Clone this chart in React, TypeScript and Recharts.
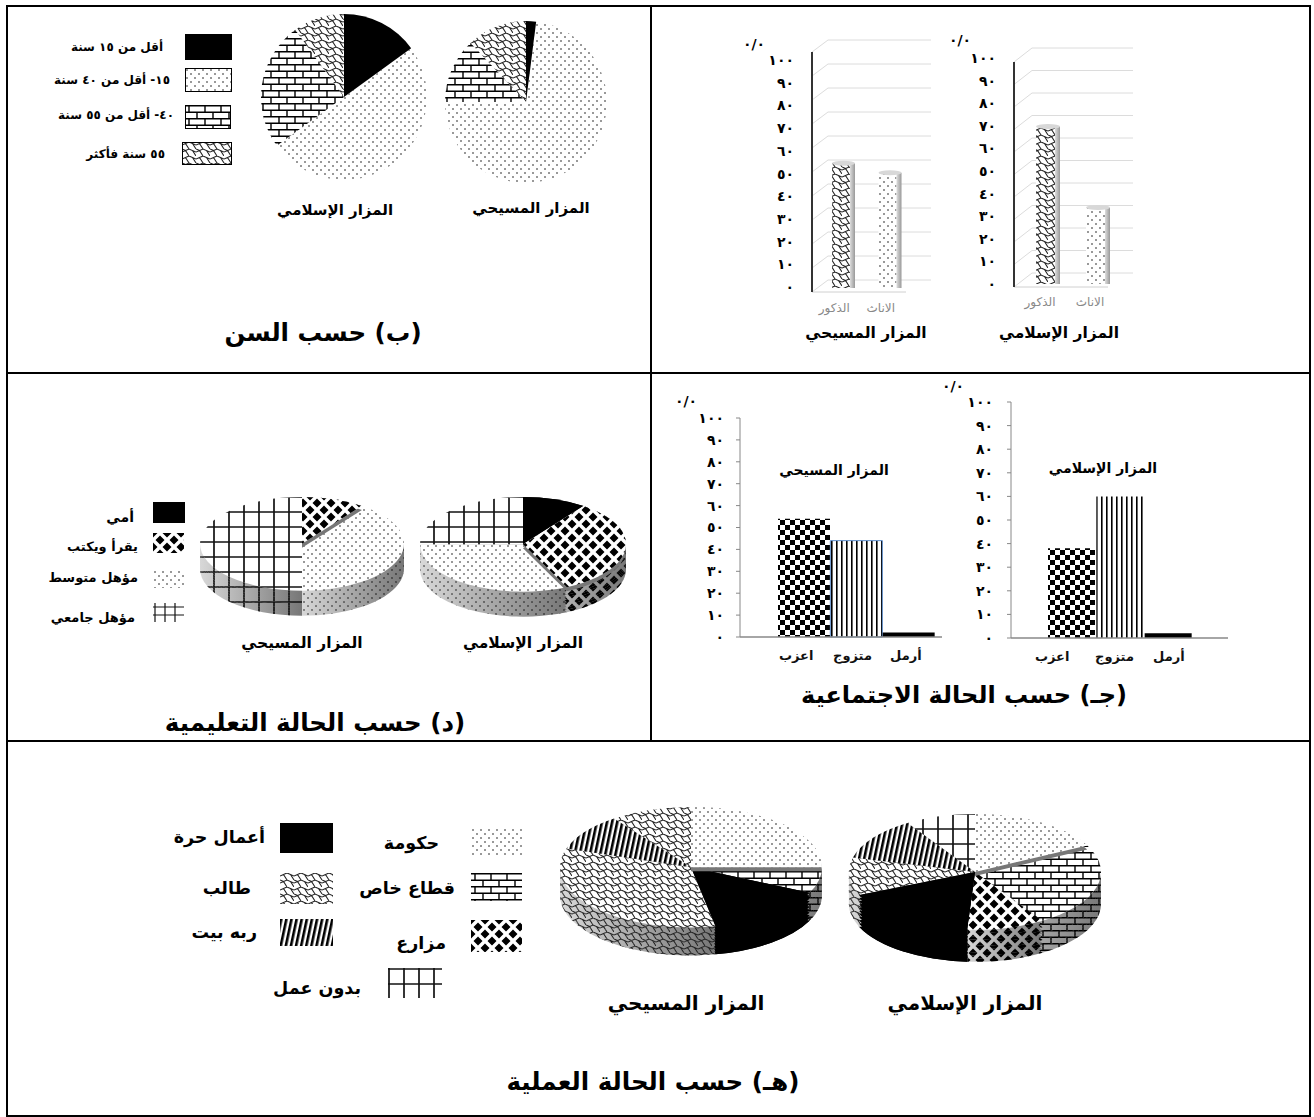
import { Bar, BarChart, CartesianGrid, Cell, Pie, PieChart, XAxis, YAxis } from 'recharts'

const FONT = '"DejaVu Sans", sans-serif'

const islamicName = 'المزار الإسلامي'
const christianName = 'المزار المسيحي'

const yTicks = [0, 10, 20, 30, 40, 50, 60, 70, 80, 90, 100]
const yTickLabels = ['٠', '١٠', '٢٠', '٣٠', '٤٠', '٥٠', '٦٠', '٧٠', '٨٠', '٩٠', '١٠٠']
const percentMark = '٠/٠'

const genderLabels = ['الذكور', 'الاناث']
const genderIslamic = [70, 34]
const genderChristian = [52, 48]
const genderFills = ['zigzag', 'dots']

const ageLabels = ['أقل من ١٥ سنة', '١٥- أقل من ٤٠ سنة', '٤٠- أقل من ٥٥ سنة', '٥٥ سنة فأكثر']
const ageIslamic = [15, 50, 25, 10]
const ageChristian = [2, 73, 13, 12]
const ageFills = ['black', 'dots', 'brick', 'zigzag']

const maritalLabels = ['اعزب', 'متزوج', 'أرمل']
const maritalIslamic = [38, 60, 2]
const maritalChristian = [54, 44, 2]
const maritalFills = ['checker', 'vstripes', 'black']

const eduLabels = ['أمي', 'يقرأ ويكتب', 'مؤهل متوسط', 'مؤهل جامعي']
const eduIslamic = [10, 33, 32, 25]
const eduChristian = [0, 10, 40, 50]
const eduFills = ['black', 'diamonds', 'dots', 'grid']

const workLabels = ['حكومة', 'قطاع خاص', 'مزارع', 'أعمال حرة', 'طالب', 'ربه بيت', 'بدون عمل']
const workIslamic = [17.5, 23.5, 10, 17.5, 10.5, 12, 9]
const workChristian = [25, 7, 0, 15, 33, 10, 10]
const workFills = ['dots', 'brick', 'diamonds', 'black', 'zigzag', 'dstripes', 'grid']
const workFillsChristian = ['dots', 'brick', 'diamonds', 'black', 'zigzag', 'dstripes', 'zigzag']

const TILT = 0.46
const sideLayers = [1, 0.9, 0.8, 0.7, 0.6, 0.5, 0.4, 0.3, 0.2, 0.1]

function toRows(labels: string[], values: number[]) {
  return labels.map((name, i) => ({ name, value: values[i] }))
}

function fillUrl(kind: string, suffix = '') {
  return kind === 'black' ? '#000' : `url(#${kind}${suffix})`
}

function PatternSet({ suffix, sy }: { suffix: string; sy: number }) {
  const t = `scale(1,${sy})`
  const common = { patternUnits: 'userSpaceOnUse' as const, patternTransform: t }
  return (
    <>
      <pattern id={`dots${suffix}`} width="8" height="8" {...common}>
        <circle cx="2" cy="2" r="0.75" fill="#000" />
        <circle cx="6" cy="6" r="0.75" fill="#000" />
      </pattern>
      <pattern id={`brick${suffix}`} width="16" height="13" {...common}>
        <path d="M0 0.7H16M0 7.2H16M4 0V7M12 7V13" stroke="#000" strokeWidth="1.4" fill="none" />
      </pattern>
      <pattern id={`zigzag${suffix}`} width="14" height="14" {...common}>
        <path d="M0 3L7 0L14 3M0 10L7 7L14 10M3.5 1.5L7 7M10.5 1.5L14 7M0 7L3.5 8.5L7 14M10.5 8.5L14 14" stroke="#222" strokeWidth="1.1" fill="none" />
      </pattern>
      <pattern id={`diamonds${suffix}`} width="14" height="14" {...common}>
        <path d="M7 2.5L11.5 7L7 11.5L2.5 7ZM0 -4.5L4.5 0L0 4.5L-4.5 0ZM14 -4.5L18.5 0L14 4.5L9.5 0ZM0 9.5L4.5 14L0 18.5L-4.5 14ZM14 9.5L18.5 14L14 18.5L9.5 14Z" fill="#000" />
      </pattern>
      <pattern id={`grid${suffix}`} width="15" height="15" {...common}>
        <path d="M1 0V15M0 1H15" stroke="#111" strokeWidth="1.7" fill="none" />
      </pattern>
      <pattern id={`gridsm${suffix}`} width="10" height="8" {...common}>
        <path d="M2 0V8M0 4H10" stroke="#111" strokeWidth="1.2" fill="none" />
      </pattern>
      <pattern id={`vstripes${suffix}`} width="5" height="5" {...common}>
        <rect x="1" width="1.6" height="5" fill="#000" />
      </pattern>
      <pattern id={`dstripes${suffix}`} width="5" height="20" patternUnits="userSpaceOnUse" patternTransform={`${t} rotate(12)`}>
        <rect width="2.6" height="20" fill="#000" />
      </pattern>
      <pattern id={`checker${suffix}`} width="10" height="10" {...common}>
        <path d="M0 0H5V5H0ZM5 5H10V10H5Z" fill="#000" />
      </pattern>
    </>
  )
}

function SharedDefs() {
  return (
    <svg style={{ position: 'absolute', width: 0, height: 0 }}>
      <defs>
        <PatternSet suffix="" sy={1} />
        <PatternSet suffix="3d" sy={1 / TILT} />
        <linearGradient id="sideShade" x1="0" y1="0" x2="1" y2="0">
          <stop offset="0%" stopColor="#d8d8d8" />
          <stop offset="100%" stopColor="#777" />
        </linearGradient>
        <linearGradient id="barSide" x1="0" y1="0" x2="1" y2="0">
          <stop offset="0%" stopColor="#ddd" />
          <stop offset="100%" stopColor="#999" />
        </linearGradient>
      </defs>
    </svg>
  )
}

function Txt({
  x,
  y,
  size,
  children,
  anchor = 'center',
  color = '#000',
  weight = 'bold',
}: {
  x: number
  y: number
  size: number
  children: React.ReactNode
  anchor?: 'center' | 'right'
  color?: string
  weight?: string
}) {
  return (
    <div
      dir="rtl"
      style={{
        position: 'absolute',
        left: x,
        top: y,
        transform: `translate(${anchor === 'center' ? '-50%' : '-100%'},-50%)`,
        whiteSpace: 'nowrap',
        fontSize: size,
        fontWeight: weight,
        color,
        fontFamily: FONT,
        lineHeight: 1.2,
      }}
    >
      {children}
    </div>
  )
}

function Line2({ x, y, w, h }: { x: number; y: number; w: number; h: number }) {
  return <div style={{ position: 'absolute', left: x, top: y, width: w, height: h, background: '#000' }} />
}

function Swatch({ box, kind, border }: { box: number[]; kind: string; border?: boolean }) {
  const [x1, y1, x2, y2] = box
  return (
    <svg style={{ position: 'absolute', left: x1, top: y1 }} width={x2 - x1} height={y2 - y1}>
      <rect width={x2 - x1} height={y2 - y1} fill={fillUrl(kind)} />
      {border && <rect x="0.5" y="0.5" width={x2 - x1 - 1} height={y2 - y1 - 1} fill="none" stroke="#000" />}
    </svg>
  )
}

function FlatPie({ cx, cy, r, values, labels }: { cx: number; cy: number; r: number; values: number[]; labels: string[] }) {
  return (
    <div style={{ position: 'absolute', left: cx - r - 2, top: cy - r - 2 }}>
      <PieChart width={2 * r + 4} height={2 * r + 4} margin={{ top: 0, right: 0, bottom: 0, left: 0 }}>
        <Pie
          data={toRows(labels, values)}
          dataKey="value"
          cx={r + 2}
          cy={r + 2}
          outerRadius={r}
          startAngle={90}
          endAngle={-270}
          stroke="none"
          isAnimationActive={false}
        >
          {labels.map((l, i) => (
            <Cell key={l} fill={fillUrl(ageFills[i])} />
          ))}
        </Pie>
      </PieChart>
    </div>
  )
}

function TiltedPie({
  cx,
  cy,
  rx,
  depth,
  values,
  labels,
  fills,
  lifted,
}: {
  cx: number
  cy: number
  rx: number
  depth: number
  values: number[]
  labels: string[]
  fills: string[]
  lifted: number
}) {
  const ry = rx * TILT
  const rows = toRows(labels, values)
  const height = (2 * ry + depth + 6) / TILT
  const topCy = rx + 2
  const shared = {
    data: rows,
    dataKey: 'value',
    cx: rx + 2,
    outerRadius: rx,
    startAngle: 90,
    endAngle: -270,
    stroke: 'none',
    isAnimationActive: false,
  }
  return (
    <div
      style={{
        position: 'absolute',
        left: cx - rx - 2,
        top: cy - ry - 2,
        transform: `scaleY(${TILT})`,
        transformOrigin: 'top left',
      }}
    >
      <PieChart width={2 * rx + 4} height={height} margin={{ top: 0, right: 0, bottom: 0, left: 0 }}>
        {sideLayers.flatMap((f) => {
          const layerCy = topCy + (depth * f) / TILT
          return [
            <Pie key={`s${f}`} {...shared} cy={layerCy}>
              {labels.map((l, i) => (
                <Cell key={l} fill={fills[i] === 'black' ? '#000' : 'url(#sideShade)'} />
              ))}
            </Pie>,
            <Pie key={`p${f}`} {...shared} cy={layerCy}>
              {labels.map((l, i) => (
                <Cell key={l} fill={fillUrl(fills[i], '3d')} />
              ))}
            </Pie>,
          ]
        })}
        <Pie {...shared} cy={topCy}>
          {labels.map((l, i) => (
            <Cell key={l} fill={fills[i] === 'black' ? '#000' : '#fff'} />
          ))}
        </Pie>
        <Pie {...shared} cy={topCy}>
          {labels.map((l, i) => (
            <Cell key={l} fill={fillUrl(fills[i], '3d')} />
          ))}
        </Pie>
        {/* the pulled-out slice: grey wall under its lower edge, then the slice again */}
        <Pie {...shared} cy={topCy + 4 / TILT}>
          {labels.map((l, i) => (
            <Cell key={l} fill={i === lifted ? '#777' : 'none'} />
          ))}
        </Pie>
        <Pie {...shared} cy={topCy}>
          {labels.map((l, i) => (
            <Cell key={l} fill={i === lifted ? '#fff' : 'none'} />
          ))}
        </Pie>
        <Pie {...shared} cy={topCy}>
          {labels.map((l, i) => (
            <Cell key={l} fill={i === lifted ? fillUrl(fills[i], '3d') : 'none'} />
          ))}
        </Pie>
      </PieChart>
    </div>
  )
}

function CylinderBar(props: any) {
  const { x, y, width, height, index, dx, dy, fills } = props
  const left = x + dx
  const top = y + dy
  const side = 5
  return (
    <g>
      <rect x={left} y={top} width={width} height={height} fill="#fff" />
      <rect x={left} y={top} width={width} height={height} fill={fillUrl(fills[index])} />
      <rect x={left + width} y={top} width={side} height={height} fill="url(#barSide)" />
      <ellipse cx={left + (width + side) / 2} cy={top} rx={(width + side) / 2} ry={2.5} fill="#d8d8d8" />
    </g>
  )
}

function Perspective3DBars({
  left,
  top,
  width,
  height,
  plotLeft,
  plotRight,
  plotTop,
  plotBottom,
  labelTop,
  labelBottom,
  backDx,
  backDy,
  barWidth,
  barDx,
  barDy,
  tickLabelY,
  padRight,
  values,
}: {
  left: number
  top: number
  width: number
  height: number
  plotLeft: number
  plotRight: number
  plotTop: number
  plotBottom: number
  labelTop: number
  labelBottom: number
  backDx: number
  backDy: number
  barWidth: number
  barDx: number
  barDy: number
  tickLabelY: number
  padRight: number
  values: number[]
}) {
  const rows = toRows(genderLabels, values)
  const gridLine = (p: any) => {
    const isFloor = Math.abs(p.y1 - (plotBottom - top)) < 1
    return (
      <g key={p.key}>
        <line x1={p.x1} y1={p.y1} x2={p.x2} y2={p.y2} stroke="#dcdcdc" />
        <line x1={p.x1} y1={p.y1} x2={p.x1 - backDx} y2={p.y1 + backDy} stroke="#dcdcdc" />
        {isFloor && <line x1={p.x1 - backDx} y1={p.y1 + backDy} x2={p.x2 - 25} y2={p.y1 + backDy} stroke="#d0d0d0" />}
      </g>
    )
  }
  const yTick = (p: any) => {
    const share = (p.y - (plotTop - top)) / (plotBottom - plotTop)
    const ly = labelTop - top + share * (labelBottom - labelTop)
    return (
      <text x={plotLeft - left - backDx - 18} y={ly} dy={5} textAnchor="end" fontFamily={FONT} fontSize={14} fontWeight="bold" letterSpacing={2}>
        {yTickLabels[p.payload.value / 10]}
      </text>
    )
  }
  const xTick = (p: any) => (
    <text x={p.x - 17} y={tickLabelY - top} dy={4} textAnchor="middle" fontFamily={FONT} fontSize={12} fill="#888">
      {p.payload.value}
    </text>
  )
  return (
    <div style={{ position: 'absolute', left, top }}>
      <BarChart
        width={width}
        height={height}
        data={rows}
        margin={{ top: plotTop - top, right: left + width - plotRight, bottom: 0, left: 0 }}
      >
        <CartesianGrid vertical={false} horizontal={gridLine} />
        <XAxis dataKey="name" axisLine={false} tickLine={false} tick={xTick} height={top + height - plotBottom} padding={{ left: 0, right: padRight }} interval={0} />
        <YAxis
          domain={[0, 100]}
          ticks={yTicks}
          interval={0}
          width={plotLeft - left}
          tick={yTick}
          tickLine={false}
          axisLine={{ stroke: '#333', strokeWidth: 2, transform: `translate(${-backDx},${backDy})` }}
        />
        <Bar
          dataKey="value"
          barSize={barWidth}
          isAnimationActive={false}
          shape={(p: any) => <CylinderBar {...p} dx={barDx} dy={barDy} fills={genderFills} />}
        />
      </BarChart>
    </div>
  )
}

function MaritalBars({
  left,
  top,
  width,
  height,
  axisX,
  axisEnd,
  plotTop,
  plotBottom,
  padLeft,
  padRight,
  barWidth,
  tickGap,
  xShift,
  values,
  outline,
}: {
  left: number
  top: number
  width: number
  height: number
  axisX: number
  axisEnd: number
  plotTop: number
  plotBottom: number
  padLeft: number
  padRight: number
  barWidth: number
  tickGap: number
  xShift: number[]
  values: number[]
  outline?: string
}) {
  const rows = toRows(maritalLabels, values)
  const xTick = (p: any) => (
    <text x={p.x + xShift[p.index]} y={p.y + 15} textAnchor="middle" fontFamily={FONT} fontSize={13} fontWeight="bold" fill="#111">
      {p.payload.value}
    </text>
  )
  return (
    <div style={{ position: 'absolute', left, top }}>
      <BarChart
        width={width}
        height={height}
        data={rows}
        barCategoryGap={0}
        margin={{ top: plotTop - top, right: left + width - axisEnd, bottom: 0, left: 0 }}
      >
        <XAxis
          dataKey="name"
          axisLine={{ stroke: '#888', strokeWidth: 1.5 }}
          tickLine={false}
          tick={xTick}
          height={top + height - plotBottom}
          padding={{ left: padLeft, right: padRight }}
          interval={0}
        />
        <YAxis
          domain={[0, 100]}
          ticks={yTicks}
          interval={0}
          width={axisX - left}
          tickSize={4}
          tickMargin={tickGap}
          tickFormatter={(v: number) => yTickLabels[v / 10]}
          tick={{ fontFamily: FONT, fontSize: 14, fontWeight: 'bold', fill: '#000', letterSpacing: 2 }}
          axisLine={{ stroke: '#888' }}
          tickLine={{ stroke: '#888' }}
        />
        <Bar dataKey="value" barSize={barWidth} isAnimationActive={false}>
          {maritalFills.map((f, i) => (
            <Cell key={f} fill={fillUrl(f)} stroke={f === 'vstripes' && outline ? outline : 'none'} />
          ))}
        </Bar>
      </BarChart>
    </div>
  )
}

export default function App() {
  return (
    <div style={{ position: 'absolute', left: 0, top: 0, width: 1314, height: 1117, background: '#fff', overflow: 'hidden' }}>
      <SharedDefs />

      <Line2 x={6} y={5} w={1305} h={2} />
      <Line2 x={6} y={5} w={2} h={1112} />
      <Line2 x={1309} y={5} w={2} h={1112} />
      <Line2 x={650} y={5} w={2} h={736} />
      <Line2 x={6} y={372} w={1305} h={2} />
      <Line2 x={6} y={740} w={1305} h={2} />
      <Line2 x={6} y={1115} w={1305} h={2} />

      {/* (ب) age */}
      <FlatPie cx={344} cy={97} r={83} values={ageIslamic} labels={ageLabels} />
      <FlatPie cx={526} cy={102} r={81} values={ageChristian} labels={ageLabels} />
      <Swatch box={[185, 34, 232, 60]} kind="black" />
      <Swatch box={[185, 68, 232, 92]} kind="dots" border />
      <Swatch box={[185, 105, 231, 129]} kind="brick" border />
      <Swatch box={[182, 142, 232, 165]} kind="zigzag" border />
      <Txt x={163} y={47} size={12} anchor="right">{ageLabels[0]}</Txt>
      <Txt x={170} y={80} size={12} anchor="right">{ageLabels[1]}</Txt>
      <Txt x={174} y={115} size={12} anchor="right">{ageLabels[2]}</Txt>
      <Txt x={165} y={154} size={12} anchor="right">{ageLabels[3]}</Txt>
      <Txt x={335} y={210} size={15}>{islamicName}</Txt>
      <Txt x={531} y={208} size={15}>{christianName}</Txt>
      <Txt x={323} y={333} size={24.5}>(ب) حسب السن</Txt>

      {/* (أ) gender */}
      <Perspective3DBars
        left={730} top={20} width={220} height={300}
        plotLeft={828} plotRight={931} plotTop={40} plotBottom={280}
        labelTop={60} labelBottom={287} backDx={16} backDy={12}
        barWidth={18} barDx={-10} barDy={8} tickLabelY={308} padRight={10}
        values={genderChristian}
      />
      <Perspective3DBars
        left={950} top={30} width={200} height={290}
        plotLeft={1032} plotRight={1133} plotTop={48} plotBottom={273}
        labelTop={58} labelBottom={284} backDx={18} backDy={14}
        barWidth={19} barDx={-12} barDy={11} tickLabelY={302} padRight={1}
        values={genderIslamic}
      />
      <Txt x={754} y={44} size={14}><span dir="ltr">{percentMark}</span></Txt>
      <Txt x={960} y={40} size={14}><span dir="ltr">{percentMark}</span></Txt>
      <Txt x={866} y={333} size={15.5}>{christianName}</Txt>
      <Txt x={1059} y={333} size={15.5}>{islamicName}</Txt>

      {/* (د) education */}
      <TiltedPie cx={523} cy={545} rx={103} depth={25} values={eduIslamic} labels={eduLabels} fills={eduFills} lifted={1} />
      <TiltedPie cx={302} cy={545} rx={102} depth={25} values={eduChristian} labels={eduLabels} fills={eduFills} lifted={1} />
      <Swatch box={[153, 502, 185, 523]} kind="black" />
      <Swatch box={[153, 533, 184, 553]} kind="diamonds" />
      <Swatch box={[153, 570, 184, 588]} kind="dots" />
      <Swatch box={[153, 603, 184, 622]} kind="gridsm" />
      <Txt x={134} y={517} size={14} anchor="right">{eduLabels[0]}</Txt>
      <Txt x={138} y={547} size={13} anchor="right">{eduLabels[1]}</Txt>
      <Txt x={138} y={578} size={13} anchor="right">{eduLabels[2]}</Txt>
      <Txt x={135} y={618} size={13} anchor="right">{eduLabels[3]}</Txt>
      <Txt x={523} y={643} size={15.5}>{islamicName}</Txt>
      <Txt x={302} y={643} size={15.5}>{christianName}</Txt>
      <Txt x={315} y={723} size={24.5}>(د) حسب الحالة التعليمية</Txt>

      {/* (جـ) marital */}
      <MaritalBars
        left={660} top={390} width={290} height={280}
        axisX={740} axisEnd={942} plotTop={418} plotBottom={637}
        padLeft={38} padRight={7} barWidth={52} tickGap={12}
        xShift={[-8, -4, -3]} values={maritalChristian} outline="#5b8bc8"
      />
      <MaritalBars
        left={930} top={380} width={310} height={290}
        axisX={1011} axisEnd={1228} plotTop={402} plotBottom={638}
        padLeft={36} padRight={36} barWidth={47} tickGap={14}
        xShift={[-19, -5, 1]} values={maritalIslamic}
      />
      <Txt x={686} y={401} size={14}><span dir="ltr">{percentMark}</span></Txt>
      <Txt x={953} y={386} size={14}><span dir="ltr">{percentMark}</span></Txt>
      <Txt x={834} y={470} size={14}>{christianName}</Txt>
      <Txt x={1103} y={468} size={14}>{islamicName}</Txt>
      <Txt x={964} y={695} size={24}>(جـ) حسب الحالة الاجتماعية</Txt>

      {/* (هـ) work */}
      <TiltedPie cx={691} cy={868} rx={131} depth={28} values={workChristian} labels={workLabels} fills={workFillsChristian} lifted={0} />
      <TiltedPie cx={975} cy={873} rx={126} depth={32} values={workIslamic} labels={workLabels} fills={workFills} lifted={0} />
      <Swatch box={[471, 828, 522, 855]} kind="dots" />
      <Swatch box={[471, 873, 522, 901]} kind="brick" />
      <Swatch box={[471, 920, 522, 952]} kind="diamonds" />
      <Swatch box={[388, 968, 442, 998]} kind="grid" />
      <Swatch box={[280, 823, 333, 853]} kind="black" />
      <Swatch box={[280, 873, 333, 904]} kind="zigzag" />
      <Swatch box={[280, 919, 333, 946]} kind="dstripes" />
      <Txt x={439} y={843} size={17.5} anchor="right">{workLabels[0]}</Txt>
      <Txt x={455} y={888} size={17.5} anchor="right">{workLabels[1]}</Txt>
      <Txt x={446} y={943} size={17.5} anchor="right">{workLabels[2]}</Txt>
      <Txt x={265} y={837} size={17.5} anchor="right">{workLabels[3]}</Txt>
      <Txt x={251} y={888} size={17.5} anchor="right">{workLabels[4]}</Txt>
      <Txt x={257} y={932} size={17.5} anchor="right">{workLabels[5]}</Txt>
      <Txt x={361} y={988} size={17.5} anchor="right">{workLabels[6]}</Txt>
      <Txt x={965} y={1003} size={20}>{islamicName}</Txt>
      <Txt x={686} y={1003} size={20}>{christianName}</Txt>
      <Txt x={653} y={1082} size={24.5}>(هـ) حسب الحالة العملية</Txt>
    </div>
  )
}
